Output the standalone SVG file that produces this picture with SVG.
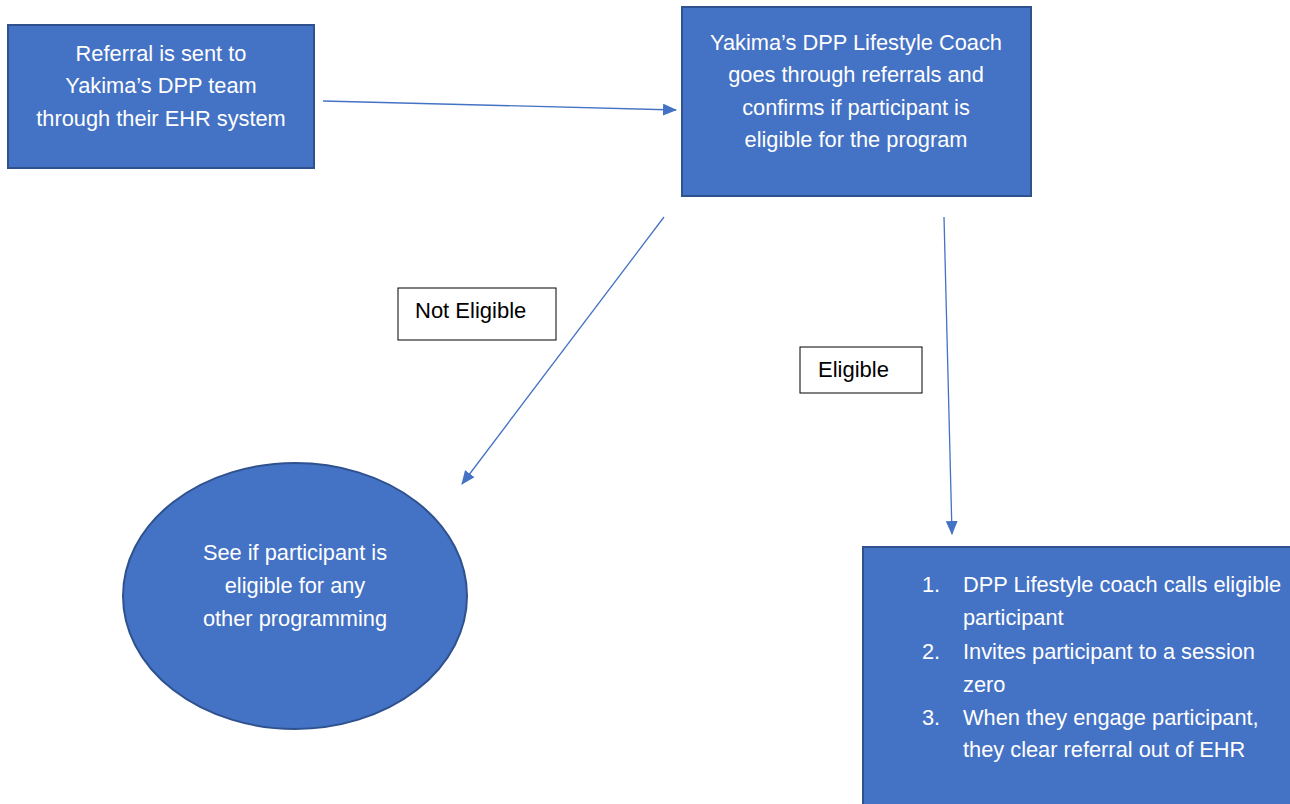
<svg xmlns="http://www.w3.org/2000/svg" width="1290" height="804" viewBox="0 0 1290 804">
<style>
.node{fill:#4472C4;stroke:#2F528F;stroke-width:2}
.lbl{fill:#FFFFFF;stroke:#000000;stroke-width:1}
.t{font-family:"Liberation Sans",Arial,sans-serif;font-size:21.8px;fill:#FFFFFF}
.c{text-anchor:middle}
.k{font-family:"Liberation Sans",Arial,sans-serif;font-size:22px;fill:#000000}
.edge{stroke:#4472C4;stroke-width:1.3;fill:none;marker-end:url(#ah)}
</style>
<defs>
<marker id="ah" viewBox="0 0 14 12" refX="13" refY="6" markerWidth="14" markerHeight="12" markerUnits="userSpaceOnUse" orient="auto">
<path d="M0,0 L14,6 L0,12 Z" fill="#4472C4"/>
</marker>
</defs>
<rect width="1290" height="804" fill="#FFFFFF"/>
<g id="connectors">
<line class="edge" x1="323" y1="101" x2="676" y2="110"/>
<line class="edge" x1="664" y1="217" x2="462" y2="484"/>
<line class="edge" x1="944" y1="217" x2="952" y2="534"/>
</g>
<g id="referral">
<rect class="node" x="8" y="25" width="306" height="143"/>
<text class="t c" x="161" y="61">Referral is sent to</text>
<text class="t c" x="161" y="93">Yakima’s DPP team</text>
<text class="t c" x="161" y="126">through their EHR system</text>
</g>
<g id="coach">
<rect class="node" x="682" y="7" width="349" height="189"/>
<text class="t c" x="856" y="50">Yakima’s DPP Lifestyle Coach</text>
<text class="t c" x="856" y="82">goes through referrals and</text>
<text class="t c" x="856" y="115">confirms if participant is</text>
<text class="t c" x="856" y="147">eligible for the program</text>
</g>
<g id="not-eligible-label">
<rect class="lbl" x="398" y="288" width="158" height="52"/>
<text class="k" x="415" y="318">Not Eligible</text>
</g>
<g id="eligible-label">
<rect class="lbl" x="800" y="347" width="122" height="46"/>
<text class="k" x="818" y="377">Eligible</text>
</g>
<g id="other-programming">
<ellipse class="node" cx="295" cy="596" rx="172" ry="133"/>
<text class="t c" x="295" y="560">See if participant is</text>
<text class="t c" x="295" y="593">eligible for any</text>
<text class="t c" x="295" y="626">other programming</text>
</g>
<g id="steps">
<rect class="node" x="863" y="547" width="440" height="270"/>
<text class="t" x="922" y="592">1.</text>
<text class="t" x="963" y="592">DPP Lifestyle coach calls eligible</text>
<text class="t" x="963" y="625">participant</text>
<text class="t" x="922" y="659">2.</text>
<text class="t" x="963" y="659">Invites participant to a session</text>
<text class="t" x="963" y="692">zero</text>
<text class="t" x="922" y="725">3.</text>
<text class="t" x="963" y="725">When they engage participant,</text>
<text class="t" x="963" y="757">they clear referral out of EHR</text>
</g>
</svg>
